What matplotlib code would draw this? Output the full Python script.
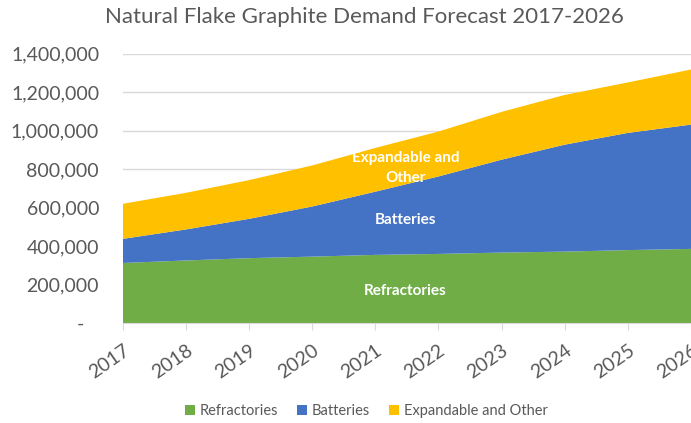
import matplotlib
matplotlib.use('Agg')
import matplotlib.pyplot as plt
from matplotlib.patches import Patch
from matplotlib.ticker import FuncFormatter

years = [2017, 2018, 2019, 2020, 2021, 2022, 2023, 2024, 2025, 2026]
refractories = [313000, 326000, 338000, 346000, 355000, 360000, 367000, 372000, 380000, 386000]
batteries = [125000, 161000, 204000, 260000, 328000, 402000, 482000, 555000, 608000, 645000]
expandable = [182000, 190000, 201000, 213000, 227000, 233000, 248000, 258000, 262000, 286000]

labels = ['Refractories', 'Batteries', 'Expandable and Other']
colors = ['#70ad47', '#4472c4', '#ffc000']
title = 'Natural Flake Graphite Demand Forecast 2017-2026'
text_color = '#595959'
grid_color = '#d9d9d9'

plt.rcParams['font.family'] = ['Lato', 'DejaVu Sans']

fig = plt.figure(figsize=(6.91, 4.23), dpi=100)
ax = fig.add_axes([0.1776, 0.2357, 0.8224, 0.6378])

ax.stackplot(years, refractories, batteries, expandable, colors=colors, linewidth=0)

ax.set_xlim(years[0], years[-1])
ax.set_ylim(0, 1400000)
ax.set_yticks(range(0, 1400001, 200000))
ax.yaxis.set_major_formatter(FuncFormatter(lambda v, p: '{:,.0f}'.format(v) if v > 0 else '-   '))
ax.set_xticks(years)
ax.set_xticklabels([str(y) for y in years], rotation=35, ha='right', rotation_mode='anchor')

ax.grid(axis='y', color=grid_color, linewidth=1)
ax.set_axisbelow(True)
for s in ['top', 'right', 'left']:
    ax.spines[s].set_visible(False)
ax.spines['bottom'].set_color(grid_color)
ax.tick_params(axis='y', length=0, labelsize=14, labelcolor=text_color, pad=17)
ax.tick_params(axis='x', length=5, color=grid_color, labelsize=14, labelcolor=text_color, pad=8)

# labels inside areas
ax.text(2021.48, 168000, 'Refractories', color='white', fontsize=11, fontweight='bold', ha='center', va='center')
ax.text(2021.48, 537000, 'Batteries', color='white', fontsize=11, fontweight='bold', ha='center', va='center')
ax.text(2021.48, 807000, 'Expandable and\nOther', color='white', fontsize=11, fontweight='bold', ha='center', va='center', linespacing=1.5)

fig.text(0.528, 0.96, title, ha='center', va='center', fontsize=16, color=text_color)

handles = [Patch(facecolor=c, edgecolor='none') for c in colors]
fig.legend(handles, labels, loc='center', bbox_to_anchor=(0.53, 0.028), ncol=3, frameon=False,
           fontsize=10.5, handlelength=0.7, handleheight=0.7, handletextpad=0.3, columnspacing=1.3,
           labelcolor=text_color)

fig.savefig('out.png', dpi=100)
